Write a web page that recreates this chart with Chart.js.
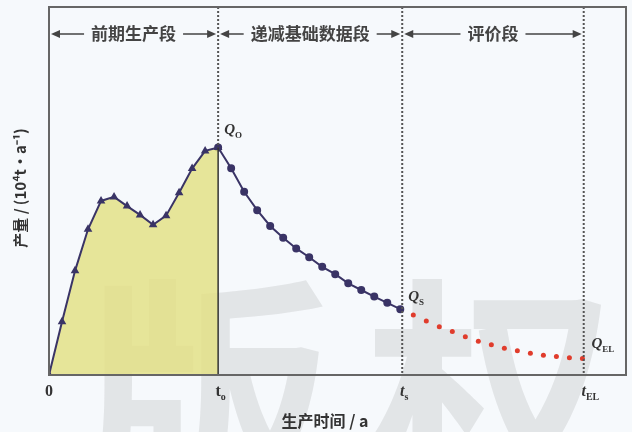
<!DOCTYPE html>
<html>
<head>
<meta charset="utf-8">
<script src="https://cdn.jsdelivr.net/npm/chart.js@4.4.0/dist/chart.umd.min.js"></script>
<style>
  html, body { margin: 0; background: #f6f9fc; }
  #wrap { width: 632px; height: 432px; }
</style>
</head>
<body>
<div id="wrap"><canvas id="chart"></canvas></div>
<script>
// 前期生产段 (triangles)
const earlyYears  = [0, 1, 2, 3, 4, 5, 6, 7, 8, 9, 10, 11, 12, 13];
const earlyOutput = [0, 14.5, 28.3, 39.6, 47.3, 48.4, 45.9, 43.5, 40.8, 43.3, 49.5, 56.1, 60.9, 61.8];
// 递减基础数据段 (circles)
const declineYears  = [13, 14, 15, 16, 17, 18, 19, 20, 21, 22, 23, 24, 25, 26, 27];
const declineOutput = [61.8, 56.2, 49.8, 44.8, 40.5, 37.3, 34.4, 32.0, 29.4, 27.4, 24.9, 23.1, 21.3, 19.6, 17.9];
// 评价段 (red dots)
const forecastYears  = [28, 29, 30, 31, 32, 33, 34, 35, 36, 37, 38, 39, 40, 41];
const forecastOutput = [16.3, 14.7, 13.1, 11.8, 10.4, 9.2, 8.2, 7.3, 6.6, 5.9, 5.4, 5.0, 4.7, 4.5];

const stageBounds = [0, 13, 27.15, 41.1];
const stageNames = ['前期生产段', '递减基础数据段', '评价段'];
const tickNames = [['0', ''], ['t', 'o'], ['t', 's'], ['t', 'EL']];
const xTitle = '生产时间 / a';
const yTitle = '产量 / (10⁴t·a⁻¹)';
const watermark = ['版', '权'];

const pts = (xs, ys) => xs.map((x, i) => ({ x, y: ys[i] }));
const navy = '#3a3466';
const ink = '#444';
const cjk = '"Noto Sans CJK SC", sans-serif';
const serif = '"Liberation Serif", "DejaVu Serif", serif';

const arrow = (ctx, x, y, dir) => {
  ctx.beginPath();
  ctx.moveTo(x, y);
  ctx.lineTo(x - dir * 9, y - 4);
  ctx.lineTo(x - dir * 9, y + 4);
  ctx.closePath();
  ctx.fill();
};

const subLabel = (ctx, x, y, main, sub, italic, size) => {
  ctx.font = `${italic ? 'italic ' : ''}bold ${size}px ${serif}`;
  ctx.textBaseline = 'alphabetic';
  ctx.textAlign = 'left';
  ctx.fillText(main, x, y);
  const w = ctx.measureText(main).width;
  ctx.font = `bold ${Math.round(size * 0.62)}px ${serif}`;
  ctx.fillText(sub, x + w, y + 4);
};

const decor = {
  id: 'decor',
  beforeDatasetsDraw(chart) {
    // faint watermark behind the marks
    const { ctx } = chart;
    ctx.save();
    ctx.fillStyle = 'rgba(150,150,150,0.2)';
    ctx.font = `bold 250px ${cjk}`;
    ctx.textAlign = 'center';
    ctx.textBaseline = 'top';
    ctx.fillText(watermark[0], 207, 272);
    ctx.fillText(watermark[1], 490, 272);
    ctx.restore();
  },
  afterDatasetsDraw(chart) {
    const { ctx, chartArea: a, scales: { x, y } } = chart;
    ctx.save();

    // dotted stage lines
    ctx.strokeStyle = '#555';
    ctx.lineWidth = 2;
    ctx.setLineDash([2, 2]);
    const q0y = y.getPixelForValue(earlyOutput[earlyOutput.length - 1]);
    ctx.beginPath();
    ctx.moveTo(x.getPixelForValue(stageBounds[1]), a.top);
    ctx.lineTo(x.getPixelForValue(stageBounds[1]), q0y);
    [stageBounds[2], stageBounds[3]].forEach(v => {
      ctx.moveTo(x.getPixelForValue(v), a.top);
      ctx.lineTo(x.getPixelForValue(v), a.bottom);
    });
    ctx.stroke();
    ctx.setLineDash([]);

    // solid edge of the shaded area
    ctx.strokeStyle = '#333';
    ctx.lineWidth = 1.5;
    ctx.beginPath();
    ctx.moveTo(x.getPixelForValue(stageBounds[1]), q0y);
    ctx.lineTo(x.getPixelForValue(stageBounds[1]), a.bottom);
    ctx.stroke();

    // frame
    ctx.strokeStyle = '#666';
    ctx.lineWidth = 2;
    ctx.strokeRect(a.left, a.top, a.right - a.left, a.bottom - a.top);

    // stage headers with arrows
    ctx.fillStyle = ink;
    ctx.strokeStyle = ink;
    ctx.lineWidth = 1.5;
    ctx.font = `bold 17px ${cjk}`;
    ctx.textAlign = 'center';
    ctx.textBaseline = 'middle';
    const ay = 34;
    stageNames.forEach((name, i) => {
      const x0 = x.getPixelForValue(stageBounds[i]) + 2;
      const x1 = x.getPixelForValue(stageBounds[i + 1]) - 2;
      const cx = (x0 + x1) / 2;
      const half = ctx.measureText(name).width / 2 + 7;
      ctx.fillText(name, cx, ay);
      ctx.beginPath();
      ctx.moveTo(x0 + 6, ay); ctx.lineTo(cx - half, ay);
      ctx.moveTo(cx + half, ay); ctx.lineTo(x1 - 6, ay);
      ctx.stroke();
      arrow(ctx, x0, ay, -1);
      arrow(ctx, x1, ay, 1);
    });

    // x tick labels
    ctx.fillStyle = '#333';
    tickNames.forEach(([m, s], i) => {
      const px = x.getPixelForValue(stageBounds[i]);
      ctx.font = `${i > 1 ? 'italic ' : ''}bold 16px ${serif}`;
      const w = ctx.measureText(m).width;
      subLabel(ctx, px - w / 2, a.bottom + 21, m, s, i > 1, 16);
    });

    // Q labels
    const lastDecl = declineOutput[declineOutput.length - 1];
    const lastFc = forecastOutput[forecastOutput.length - 1];
    subLabel(ctx, x.getPixelForValue(stageBounds[1]) + 6, q0y - 14, 'Q', 'O', true, 15);
    subLabel(ctx, x.getPixelForValue(declineYears[declineYears.length - 1]) + 8, y.getPixelForValue(lastDecl) - 8, 'Q', 'S', true, 15);
    subLabel(ctx, x.getPixelForValue(forecastYears[forecastYears.length - 1]) + 9, y.getPixelForValue(lastFc) - 10, 'Q', 'EL', true, 15);

    // axis titles
    ctx.fillStyle = '#333';
    ctx.font = `bold 16px ${cjk}`;
    ctx.textAlign = 'center';
    ctx.textBaseline = 'middle';
    ctx.fillText(xTitle, 325, 421);
    ctx.save();
    ctx.translate(20, 188);
    ctx.rotate(-Math.PI / 2);
    ctx.font = `bold 15px ${cjk}`;
    ctx.fillText(yTitle, 0, 0);
    ctx.restore();

    ctx.restore();
  }
};

new Chart(document.getElementById('chart'), {
  type: 'scatter',
  data: {
    datasets: [
      {
        data: pts(earlyYears, earlyOutput),
        showLine: true,
        borderColor: navy,
        borderWidth: 2,
        backgroundColor: navy,
        pointStyle: 'triangle',
        pointRadius: 3,
        fill: { target: 'origin', above: 'rgba(226,224,128,0.8)' }
      },
      {
        data: pts(declineYears, declineOutput),
        showLine: true,
        borderColor: navy,
        borderWidth: 2,
        backgroundColor: navy,
        pointStyle: 'circle',
        pointRadius: 3,
        fill: false
      },
      {
        data: pts(forecastYears, forecastOutput),
        showLine: false,
        backgroundColor: '#e03c2c',
        borderWidth: 0,
        pointRadius: 2.5
      }
    ]
  },
  options: {
    responsive: true,
    maintainAspectRatio: false,
    devicePixelRatio: 1,
    animation: false,
    layout: { padding: { left: 49, top: 7, right: 1, bottom: 57 } },
    plugins: { legend: { display: false }, tooltip: { enabled: false } },
    scales: {
      x: { type: 'linear', min: 0, max: 44.35, display: false },
      y: { min: 0, max: 100, display: false }
    }
  },
  plugins: [decor]
});
</script>
</body>
</html>
